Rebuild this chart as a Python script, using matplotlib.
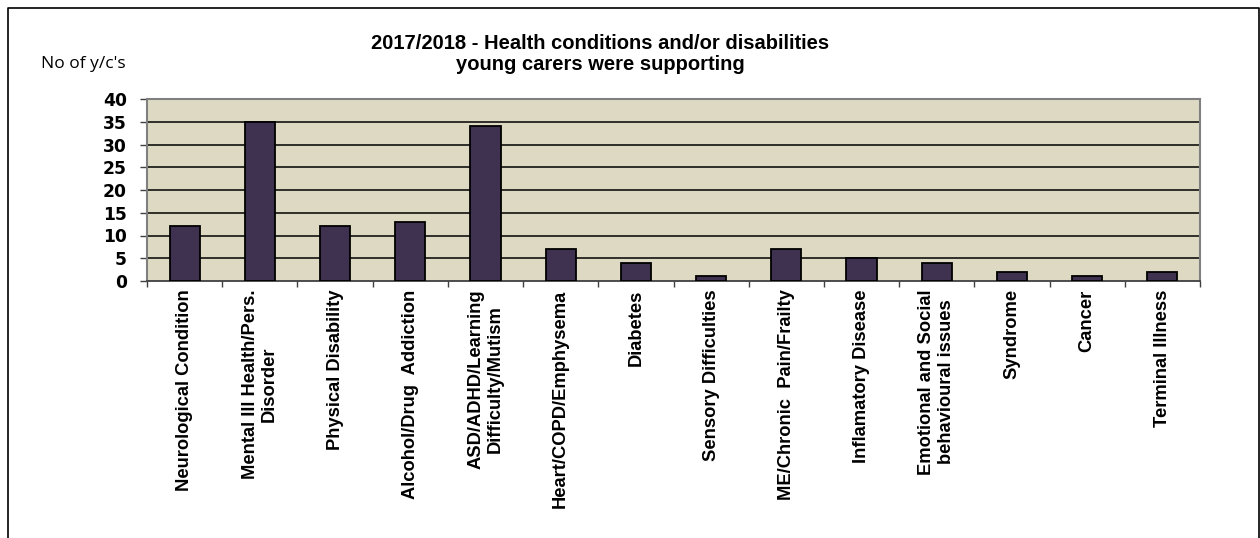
import matplotlib

matplotlib.use("Agg")
import matplotlib.pyplot as plt  # noqa: E402
import numpy as np  # noqa: E402
from matplotlib.lines import Line2D  # noqa: E402

conditions = [
    "Neurological Condition",
    "Mental Ill Health/Pers.\nDisorder",
    "Physical Disability",
    "Alcohol/Drug  Addiction",
    "ASD/ADHD/Learning\nDifficulty/Mutism",
    "Heart/COPD/Emphysema",
    "Diabetes",
    "Sensory Difficulties",
    "ME/Chronic  Pain/Frailty",
    "Inflamatory Disease",
    "Emotional and Social\nbehavioural issues",
    "Syndrome",
    "Cancer",
    "Terminal Illness",
]
young_carers = [12, 35, 12, 13, 34, 7, 4, 1, 7, 5, 4, 2, 1, 2]
y_ticks = [0, 5, 10, 15, 20, 25, 30, 35, 40]

W, H = 1260, 538
fig = plt.figure(figsize=(W / 100, H / 100), dpi=100)
plt.rcParams["font.family"] = ["Liberation Sans", "DejaVu Sans"]

ax = fig.add_axes([147 / W, 1 - 281 / H, (1200 - 147) / W, (281 - 99) / H])
ax.set_facecolor("#ddd9c3")

x = np.arange(len(conditions))
ax.bar(x, young_carers, width=0.4, color="#3f3150", edgecolor="black",
       linewidth=1.3, zorder=3)

ax.set_xlim(-0.5, len(conditions) - 0.5)
ax.set_ylim(0, 40)
ax.set_yticks(y_ticks)
# wide bold digits on the value axis
ax.set_yticklabels([str(v) for v in y_ticks], fontsize=12.3,
                   fontweight="bold", family="DejaVu Sans")
for v in y_ticks[1:-1]:
    ax.axhline(v, color="black", linewidth=1.1, zorder=1)

# category names sit centred under each bar, ticks mark the boundaries
ax.set_xticks(x, labels=conditions, rotation=90, fontsize=13.2,
              fontweight="bold", ha="center", va="top",
              multialignment="center")
ax.set_xticks(np.arange(len(conditions) + 1) - 0.5, minor=True)
ax.tick_params(axis="x", which="major", length=0, pad=6)
ax.tick_params(axis="x", which="minor", length=4.5, width=1, color="#404040",
               direction="out")
ax.tick_params(axis="y", length=5, width=1, color="#404040", pad=9.4)

for side in ("top", "right", "left"):
    ax.spines[side].set_color("#808080")
    ax.spines[side].set_linewidth(1.5)
ax.spines["bottom"].set_color("#404040")
ax.spines["bottom"].set_linewidth(1.3)

fig.text(600 / W, 1 - 54 / H,
         "2017/2018 - Health conditions and/or disabilities\n"
         "young carers were supporting",
         ha="center", va="center", fontsize=14.5, fontweight="bold",
         linespacing=1.15)
fig.text(41 / W, 1 - 64 / H, "No of y/c's", ha="left", va="center",
         fontsize=12.5, family=["Open Sans", "DejaVu Sans"])

# outer frame: left, top and right edges
fx0, fx1, fy1 = 7.5 / W, 1258.5 / W, 1 - 7.5 / H
fig.add_artist(Line2D([fx0, fx0, fx1, fx1], [0, fy1, fy1, 0],
                      color="black", linewidth=1.2,
                      transform=fig.transFigure))

fig.savefig("out.png", dpi=100)
plt.close(fig)
